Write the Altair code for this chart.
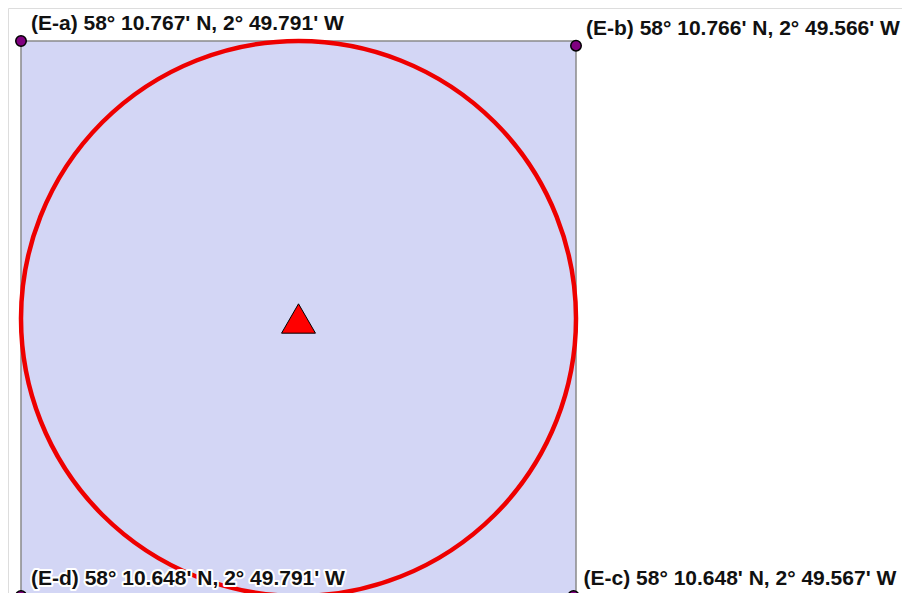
import altair as alt
import pandas as pd

# Corner points (minutes of latitude N / longitude, west as negative)
corner_names = ["E-a", "E-b", "E-c", "E-d"]
corner_lat_min = [10.767, 10.766, 10.648, 10.648]
corner_lon_min = [-49.791, -49.566, -49.567, -49.791]
corner_labels = [
    "(E-a) 58° 10.767' N, 2° 49.791' W",
    "(E-b) 58° 10.766' N, 2° 49.566' W",
    "(E-c) 58° 10.648' N, 2° 49.567' W",
    "(E-d) 58° 10.648' N, 2° 49.791' W",
]
# Centre marker
center_lat_min = [10.7075]
center_lon_min = [-49.6785]

corners = pd.DataFrame({
    "name": corner_names,
    "lat": corner_lat_min,
    "lon": corner_lon_min,
    "label": corner_labels,
})
box = pd.DataFrame({
    "lon": [min(corner_lon_min)], "lon2": [max(corner_lon_min)],
    "lat": [max(corner_lat_min)], "lat2": [min(corner_lat_min)],
})
center = pd.DataFrame({"lat": center_lat_min, "lon": center_lon_min})

W, H = 894, 585
xs = alt.Scale(domain=[-49.79627, -49.43384], nice=False, zero=False)
ys = alt.Scale(domain=[10.648644, 10.774076], nice=False, zero=False)
X = lambda f="lon": alt.X(f, type="quantitative", scale=xs, axis=None)
Y = lambda f="lat": alt.Y(f, type="quantitative", scale=ys, axis=None)

rect = alt.Chart(box).mark_rect(
    fill="#d3d6f5", stroke="#8a8a8a", strokeWidth=1.5
).encode(x=X(), x2="lon2", y=Y(), y2="lat2")

circle = alt.Chart(center).mark_point(
    shape="circle", filled=False, size=555 * 555, stroke="#ee0000",
    strokeWidth=4.5, opacity=1
).encode(x=X(), y=Y())

tri = alt.Chart(center).mark_point(
    shape="triangle-up", filled=True, size=1150, fill="#ff0000",
    stroke="#000000", strokeWidth=1, opacity=1
).encode(x=X(), y=Y())

dots = alt.Chart(corners).mark_point(
    shape="circle", filled=True, size=110, fill="#800080",
    stroke="#000000", strokeWidth=1.5, opacity=1
).encode(x=X(), y=Y())

halo = alt.Chart(corners).mark_text(
    align="left", baseline="alphabetic", dx=10, dy=-11,
    font="Liberation Sans", fontSize=21, fontWeight="bold",
    stroke="white", strokeWidth=4, strokeJoin="round", fill="white"
).encode(x=X(), y=Y(), text="label")

text = alt.Chart(corners).mark_text(
    align="left", baseline="alphabetic", dx=10, dy=-11,
    font="Liberation Sans", fontSize=21, fontWeight="bold", color="#111111"
).encode(x=X(), y=Y(), text="label")

chart = alt.layer(rect, circle, tri, dots, halo, text).properties(
    width=W, height=H, padding=0, autosize=alt.AutoSizeParams(type="none")
).configure_view(stroke=None, strokeWidth=0).configure(background="white")

chart.save("out.html", embed_options={"renderer": "svg", "actions": False})
